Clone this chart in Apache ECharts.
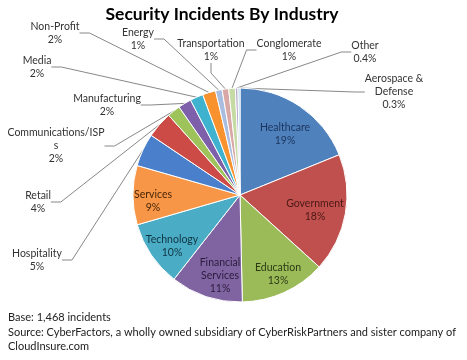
<!DOCTYPE html>
<html>
<head>
<meta charset="utf-8">
<script src="https://cdn.jsdelivr.net/npm/echarts@6/dist/echarts.min.js"></script>
<style>
html,body{margin:0;padding:0;background:#fff;}
#chart{width:467px;height:360px;}
</style>
</head>
<body>
<div id="chart"></div>
<script>
var categories = ['Healthcare','Government','Education','Financial Services','Technology','Services','Hospitality','Retail','Communications/ISPs','Manufacturing','Media','Non-Profit','Energy','Transportation','Conglomerate','Other','Aerospace & Defense'];
var labelTexts = ['Healthcare','Government','Education','Financial\nServices','Technology','Services','Hospitality','Retail','Communications/ISP\ns','Manufacturing','Media','Non-Profit','Energy','Transportation','Conglomerate','Other','Aerospace &\nDefense'];
var values = [19,18,13,11,10,9,5,4,2,2,2,2,1,1,1,0.4,0.3];
var colors = ['#4F81BD','#C0504D','#9BBB59','#8064A2','#4BACC6','#F79646','#4A7FCB','#CD4B46','#9DC35A','#7E5FAA','#3FB2D0','#F7922F','#A9BDE0','#D9A7A5','#C6DAA4','#B8AACB','#A6D4E4'];
var insideTextColors = ['#1C355C','#4A1816','#2C3A14','#2A1C3C','#0F3440','#4A2608'];
var insideCount = 6;

// label anchor positions (px, centre of the text block), by category index
var labelPos = [
  [285,134],[315,210],[278,274],[220,276],[172,246],[153,201],
  [37,260],[38,202],[56,146],[107,105],[37,67],[55,33],
  [138,39],[211,50],[289,50],[365,52],[394,92]
];

var chart = echarts.init(document.getElementById('chart'), null, {renderer:'canvas'});
var font = 'Lato, "Open Sans", sans-serif';

var data = categories.map(function(c,i){
  var d = {name:c, value:values[i], itemStyle:{color:colors[i]}};
  if (i < insideCount) {
    d.label = {position:'inside', color:insideTextColors[i]};
    d.labelLine = {show:false};
  }
  return d;
});

chart.setOption({
  backgroundColor:'#ffffff',
  animation:false,
  graphic:[
    {type:'text', x:222, y:14, style:{text:'Security Incidents By Industry', font:'bold 17.5px '+font, fill:'#000', textAlign:'center', textVerticalAlign:'middle'}},
    {type:'text', x:8, y:317, style:{text:'Base: 1,468 incidents', font:'11px '+font, fill:'#222', textVerticalAlign:'middle'}},
    {type:'text', x:8, y:332, style:{text:'Source: CyberFactors, a wholly owned subsidiary of CyberRiskPartners and sister company of', font:'11px '+font, fill:'#222', textVerticalAlign:'middle'}},
    {type:'text', x:8, y:346, style:{text:'CloudInsure.com', font:'11px '+font, fill:'#222', textVerticalAlign:'middle'}}
  ],
  series:[
    {
      type:'pie',
      center:[240,195],
      radius:[0,107],
      startAngle:90,
      clockwise:true,
      avoidLabelOverlap:false,
      itemStyle:{borderColor:'#ffffff', borderWidth:1},
      label:{
        show:true, position:'outside', fontFamily:font, fontSize:10.5, color:'#333', lineHeight:13, align:'center',
        formatter:function(p){ return labelTexts[p.dataIndex] + '\n' + values[p.dataIndex] + '%'; }
      },
      labelLine:{show:true, length:10, length2:10, lineStyle:{color:'#888', width:1}},
      labelLayout:function(p){
        var pos = labelPos[p.dataIndex];
        return {x:pos[0], y:pos[1], align:'center', verticalAlign:'middle'};
      },
      data:data
    }
  ]
});
</script>
</body>
</html>
